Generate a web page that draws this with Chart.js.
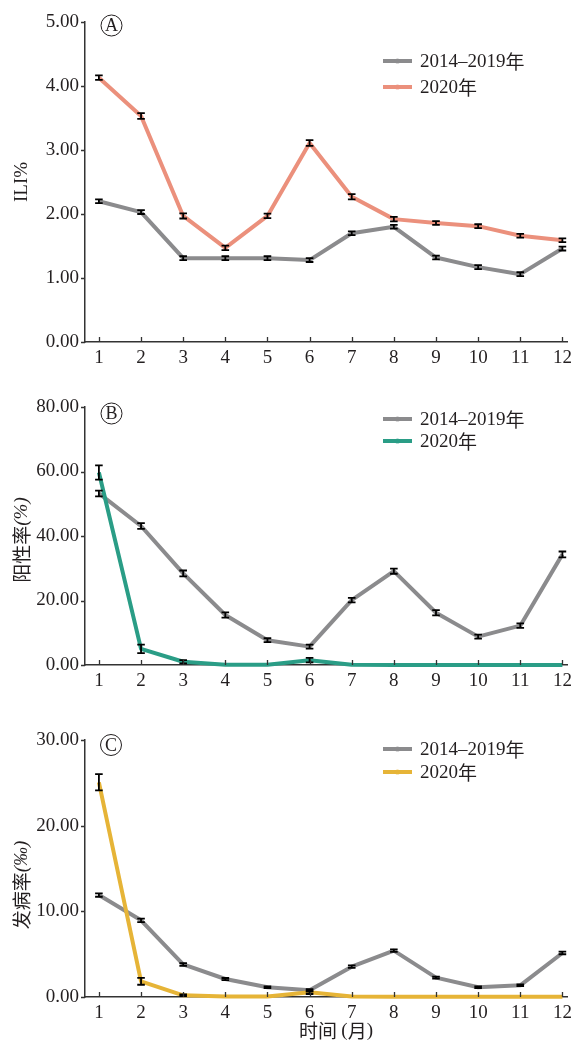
<!DOCTYPE html>
<html><head><meta charset="utf-8">
<script src="https://cdn.jsdelivr.net/npm/chart.js@4/dist/chart.umd.min.js"></script>
<style>
html,body{margin:0;padding:0;background:#fff;width:577px;height:1043px;overflow:hidden}
.p{position:absolute;left:0;width:577px}
</style></head><body>
<div class="p" style="top:0;height:370px"><canvas id="cA"></canvas></div>
<div class="p" style="top:370px;height:325px"><canvas id="cB"></canvas></div>
<div class="p" style="top:695px;height:348px"><canvas id="cC"></canvas></div>
<script>
// ---- data ----
const months = [1,2,3,4,5,6,7,8,9,10,11,12];
const seriesNames = ['2014–2019', '2020'];
const yearChar = '年';

const iliBase    = [2.20,2.03,1.31,1.31,1.31,1.28,1.70,1.80,1.32,1.17,1.06,1.46];
const iliBaseErr = [0.03,0.03,0.03,0.03,0.03,0.03,0.03,0.03,0.03,0.03,0.03,0.03];
const ili2020    = [4.13,3.53,1.97,1.47,1.97,3.11,2.27,1.92,1.86,1.81,1.66,1.59];
const ili2020Err = [0.035,0.045,0.04,0.035,0.035,0.045,0.04,0.035,0.03,0.03,0.03,0.03];

const posBase    = [53.2,43.1,28.4,15.5,7.7,5.7,20.1,29.1,16.2,8.8,12.2,34.3];
const posBaseErr = [0.9,0.9,0.9,0.8,0.6,0.6,0.7,0.8,0.8,0.6,0.7,0.9];
const pos2020    = [59.7,5.0,1.0,0.1,0.1,1.5,0.05,0,0,0,0,0];
const pos2020Err = [2.2,1.3,0.5,0,0,0.7,0,0,0,0,0,0];

const incBase    = [11.9,8.95,3.8,2.1,1.13,0.78,3.54,5.41,2.26,1.13,1.36,5.14];
const incBaseErr = [0.2,0.2,0.15,0.12,0.1,0.15,0.15,0.15,0.12,0.1,0.1,0.15];
const inc2020    = [25.06,1.83,0.2,0.05,0.05,0.55,0.05,0.03,0.03,0.03,0.03,0.03];
const inc2020Err = [0.95,0.4,0.1,0,0,0.2,0,0,0,0,0,0];

const panelLetters = ['A','B','C'];
const yTitles = [
  [['ILI%','serif']],
  [['阳性率','cjk'],['(%)','serif-italic']],
  [['发病率','cjk'],['(‰)','serif-italic']]
];
const xTitle = [['时间 ','cjk'],['(','serif'],['月','cjk'],[')','serif']];

// ---- styles ----
const GRAY = '#8b8b8d';
const SERIF = '"Liberation Serif", "Times New Roman", serif';
const CJK = '"Noto Sans CJK SC", sans-serif';
const TXT = '#231f20';
function fontFor(kind, size){
  if(kind==='cjk') return size+'px '+CJK;
  if(kind==='serif-italic') return 'italic '+size+'px '+SERIF;
  return size+'px '+SERIF;
}
function measureParts(ctx, parts, size){
  let w=0; for(const [t,k] of parts){ctx.font=fontFor(k,size); w+=ctx.measureText(t).width;} return w;
}
function drawParts(ctx, parts, x, y, size){
  for(const [t,k] of parts){ctx.font=fontFor(k,size); ctx.fillText(t,x,y); x+=ctx.measureText(t).width;}
}

function makePanel(id, cfg){
  const overlay = {
    id:'overlay',
    afterDatasetsDraw(chart){
      const ctx=chart.ctx, xs=chart.scales.x, ys=chart.scales.y, ca=chart.chartArea;
      ctx.save();
      // error bars
      ctx.strokeStyle='#000'; ctx.lineWidth=1.8;
      cfg.errs.forEach((errArr,di)=>{
        const vals=cfg.vals[di];
        months.forEach((m,i)=>{
          const e=errArr[i]; if(!e) return;
          const x=xs.getPixelForValue(m);
          const y1=ys.getPixelForValue(vals[i]+e), y2=ys.getPixelForValue(Math.max(vals[i]-e,0));
          ctx.beginPath();
          ctx.moveTo(x,y1); ctx.lineTo(x,y2);
          ctx.moveTo(x-3.8,y1); ctx.lineTo(x+3.8,y1);
          ctx.moveTo(x-3.8,y2); ctx.lineTo(x+3.8,y2);
          ctx.stroke();
        });
      });
      // tick marks
      ctx.strokeStyle='#333'; ctx.lineWidth=1.3;
      ctx.beginPath();
      months.forEach(m=>{const x=Math.round(xs.getPixelForValue(m))+0.5; ctx.moveTo(x,ca.bottom); ctx.lineTo(x,ca.bottom-5);});
      ys.ticks.forEach(t=>{const y=Math.round(ys.getPixelForValue(t.value))+0.5; ctx.moveTo(ca.left,y); ctx.lineTo(ca.left-4,y);});
      ctx.stroke();
      // circled letter
      ctx.lineWidth=1; ctx.strokeStyle=TXT;
      ctx.beginPath(); ctx.arc(cfg.letterPos[0],cfg.letterPos[1],10.5,0,Math.PI*2); ctx.stroke();
      ctx.fillStyle=TXT; ctx.font='18px '+SERIF; ctx.textAlign='center'; ctx.textBaseline='middle';
      ctx.fillText(cfg.letter,cfg.letterPos[0],cfg.letterPos[1]+1);
      // legend
      ctx.textAlign='left';
      const cols=[GRAY,cfg.color];
      seriesNames.forEach((n,i)=>{
        const y=cfg.legendY[i];
        ctx.strokeStyle=cols[i]; ctx.lineWidth=4; ctx.lineCap='butt';
        ctx.beginPath(); ctx.moveTo(383,y); ctx.lineTo(412,y); ctx.stroke();
        ctx.fillStyle=cols[i]; ctx.globalAlpha=0.7;
        ctx.beginPath(); ctx.arc(397.5,y,2.6,0,Math.PI*2); ctx.fill(); ctx.globalAlpha=1;
        ctx.fillStyle=TXT; ctx.textBaseline='middle';
        drawParts(ctx,[[n,'serif'],[yearChar,'cjk']],420,y+1,19);
      });
      // y title
      ctx.save();
      ctx.translate(22,cfg.yTitleY); ctx.rotate(-Math.PI/2);
      const w=measureParts(ctx,cfg.yTitle,19);
      ctx.fillStyle=TXT; ctx.textBaseline='middle';
      drawParts(ctx,cfg.yTitle,-w/2,0,19);
      ctx.restore();
      // x title
      if(cfg.xTitle){
        const w2=measureParts(ctx,cfg.xTitle,19);
        ctx.fillStyle=TXT; ctx.textBaseline='middle';
        drawParts(ctx,cfg.xTitle,336-w2/2,cfg.xTitleY,19);
      }
      ctx.restore();
    }
  };
  const mk=(vals,color,order)=>({
    data:months.map((m,i)=>({x:m,y:vals[i]})),
    borderColor:color, backgroundColor:color, borderWidth:4,
    pointRadius:0, pointHoverRadius:0, tension:0, clip:false, order:order,
    borderJoinStyle:'round'
  });
  return new Chart(document.getElementById(id),{
    type:'line',
    data:{datasets:[mk(cfg.vals[0],GRAY,1),mk(cfg.vals[1],cfg.color,0)]},
    options:{
      responsive:true, maintainAspectRatio:false, animation:false,
      events:[],
      layout:{padding:{top:cfg.top,right:9,left:0,bottom:0}},
      plugins:{legend:{display:false},tooltip:{enabled:false}},
      scales:{
        x:{type:'linear',min:0.67,max:12.12,
          grid:{display:false,drawTicks:false},
          border:{display:true,color:'#333',width:1.5},
          afterBuildTicks:s=>{s.ticks=months.map(v=>({value:v}));},
          afterFit:s=>{s.height=cfg.xH;},
          ticks:{padding:5,color:TXT,font:{family:SERIF,size:19},maxRotation:0,autoSkip:false,callback:v=>String(v)}
        },
        y:{min:0,max:cfg.yMax,
          grid:{display:false,drawTicks:false},
          border:{display:true,color:'#333',width:1.5},
          afterFit:s=>{s.width=85;},
          ticks:{stepSize:cfg.yStep,padding:6,color:TXT,font:{family:SERIF,size:19},callback:v=>Number(v).toFixed(2)}
        }
      }
    },
    plugins:[overlay]
  });
}

makePanel('cA',{vals:[iliBase,ili2020],errs:[iliBaseErr,ili2020Err],color:'#eb907c',
  yMax:5,yStep:1,top:22,xH:28,letter:panelLetters[0],letterPos:[111.5,25.5],
  legendY:[61,87],yTitle:yTitles[0],yTitleY:182});
makePanel('cB',{vals:[posBase,pos2020],errs:[posBaseErr,pos2020Err],color:'#2a9d86',
  yMax:80,yStep:20,top:37,xH:30,letter:panelLetters[1],letterPos:[111.5,43.5],
  legendY:[49,71],yTitle:yTitles[1],yTitleY:170});
makePanel('cC',{vals:[incBase,inc2020],errs:[incBaseErr,inc2020Err],color:'#e6b437',
  yMax:30,yStep:10,top:45,xH:46,letter:panelLetters[2],letterPos:[111,50],
  legendY:[54,77],yTitle:yTitles[2],yTitleY:190,xTitle:xTitle,xTitleY:336});
</script>
</body></html>
